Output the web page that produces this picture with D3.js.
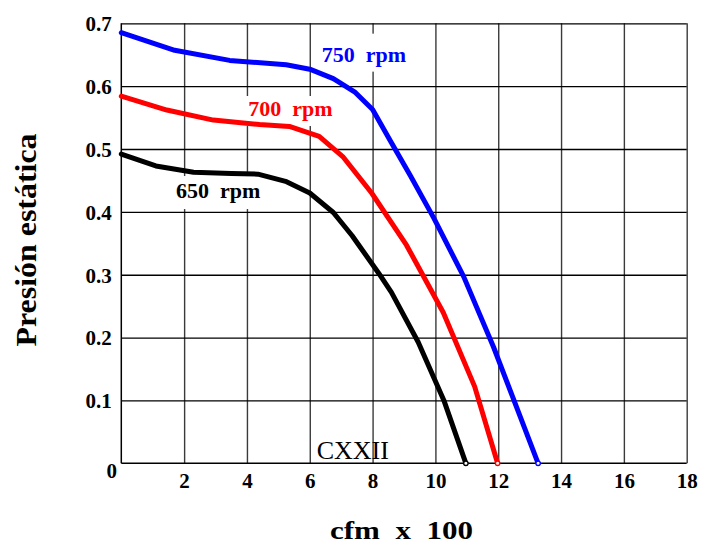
<!DOCTYPE html>
<html>
<head>
<meta charset="utf-8">
<script src="https://cdn.jsdelivr.net/npm/d3@7/dist/d3.min.js"></script>
<style>
  body { margin: 0; background: #fff; }
  svg { display: block; }
  text { font-family: "Liberation Serif", "Times New Roman", serif; }
</style>
</head>
<body>
<svg id="chart" width="702" height="544"></svg>
<script>
// Axis ticks
const xTickValues = [2, 4, 6, 8, 10, 12, 14, 16, 18];
const yTickValues = [0.1, 0.2, 0.3, 0.4, 0.5, 0.6, 0.7];

// Fan curves: flow (cfm x 100) against static pressure
const seriesNames  = ["650 rpm", "700 rpm", "750 rpm"];
const seriesColors = ["#000000", "#ff0000", "#0000ff"];

const cfm650  = [0, 1.1, 2.3, 3.5, 4.35, 5.26, 6.0, 6.75, 7.35, 8.2, 8.6, 9.45, 10.27, 10.97];
const pres650 = [0.492, 0.473, 0.463, 0.461, 0.460, 0.448, 0.430, 0.399, 0.362, 0.302, 0.272, 0.193, 0.100, 0];

const cfm700  = [0, 1.45, 2.93, 4.4, 5.35, 6.3, 7.05, 7.97, 9.08, 10.25, 11.25, 11.98];
const pres700 = [0.584, 0.562, 0.546, 0.539, 0.536, 0.520, 0.488, 0.430, 0.347, 0.240, 0.122, 0];

const cfm750  = [0, 1.7, 3.45, 5.25, 6.0, 6.75, 7.45, 8.0, 8.6, 9.2, 9.95, 10.9, 11.85, 13.27];
const pres750 = [0.685, 0.657, 0.641, 0.634, 0.627, 0.612, 0.590, 0.563, 0.510, 0.458, 0.390, 0.297, 0.185, 0];

// Where each curve name sits, in data units (start of text, baseline)
const labelCfm  = [1.74, 4.04, 6.38];
const labelPres = [0.422, 0.5525, 0.639];

const xTitle = "cfm  x  100";
const yTitle = "Presión estática";
const plateLabel = "CXXII";

const svg = d3.select("#chart");
const x = d3.scaleLinear().domain([0, 18]).range([121.3, 686.7]);
const y = d3.scaleLinear().domain([0, 0.7]).range([463.3, 23.3]);

// Grid via axes
const gridX = svg.append("g")
  .attr("transform", `translate(0,${y(0)})`)
  .call(d3.axisBottom(x).tickValues(xTickValues).tickSize(-(y(0) - y(0.7))).tickFormat(""));
gridX.select(".domain").remove();
gridX.selectAll("line").attr("stroke", "#3a3a3a").attr("stroke-width", 1.4);

const gridY = svg.append("g")
  .attr("transform", `translate(${x(0)},0)`)
  .call(d3.axisLeft(y).tickValues(yTickValues).tickSize(-(x(18) - x(0))).tickFormat(""));
gridY.select(".domain").remove();
gridY.selectAll("line").attr("stroke", "#000").attr("stroke-width", 1.3);

// Frame: left and bottom axis lines
svg.append("line").attr("x1", x(0)).attr("x2", x(0)).attr("y1", y(0.7)).attr("y2", y(0))
  .attr("stroke", "#000").attr("stroke-width", 1.5);
svg.append("line").attr("x1", x(0)).attr("x2", x(18)).attr("y1", y(0)).attr("y2", y(0))
  .attr("stroke", "#000").attr("stroke-width", 1.5);

// Tick labels
const xAxis = svg.append("g")
  .attr("transform", `translate(0,${y(0)})`)
  .call(d3.axisBottom(x).tickValues(xTickValues).tickSize(0).tickPadding(0).tickFormat(d3.format("d")));
xAxis.select(".domain").remove();
xAxis.selectAll("text")
  .attr("dy", null).attr("y", 24.5)
  .attr("font-family", "Liberation Serif").attr("font-weight", "bold")
  .attr("font-size", 21).attr("fill", "#000");

const yAxis = svg.append("g")
  .attr("transform", `translate(${x(0)},0)`)
  .call(d3.axisLeft(y).tickValues(yTickValues).tickSize(0).tickPadding(9.6).tickFormat(d3.format(".1f")));
yAxis.select(".domain").remove();
yAxis.selectAll("text")
  .attr("dy", "0.35em")
  .attr("font-family", "Liberation Serif").attr("font-weight", "bold")
  .attr("font-size", 21).attr("fill", "#000");

// Shared origin label
svg.append("text")
  .attr("x", x(0) - 4.3).attr("y", y(0) + 14.7)
  .attr("text-anchor", "end")
  .attr("font-weight", "bold").attr("font-size", 21)
  .text("0");

// Curve labels with white backing boxes
const padTop = [22, 20, 28];
const padBottom = [11, 10, 10];
const labelLayer = svg.append("g");
const curveLayer = svg.append("g");
const textLayer = svg.append("g");

seriesNames.forEach((name, i) => {
  const t = textLayer.append("text")
    .attr("x", x(labelCfm[i])).attr("y", y(labelPres[i]))
    .attr("font-weight", "bold").attr("font-size", 22)
    .attr("fill", seriesColors[i])
    .attr("xml:space", "preserve")
    .style("white-space", "pre")
    .text(name.replace(" ", "  "));
  const bb = t.node().getBBox();
  labelLayer.append("rect")
    .attr("x", bb.x - 5).attr("width", bb.width + 10)
    .attr("y", y(labelPres[i]) - padTop[i])
    .attr("height", padTop[i] + padBottom[i])
    .attr("fill", "#fff");
});

// Curves
const series = [
  { cfm: cfm650, pres: pres650 },
  { cfm: cfm700, pres: pres700 },
  { cfm: cfm750, pres: pres750 }
];
const line = d3.line().x(d => x(d[0])).y(d => y(d[1]));

series.forEach((s, i) => {
  const pts = s.cfm.map((c, k) => [c, s.pres[k]]);
  curveLayer.append("path")
    .attr("d", line(pts))
    .attr("fill", "none")
    .attr("stroke", seriesColors[i])
    .attr("stroke-width", 5)
    .attr("stroke-linejoin", "round")
    .attr("stroke-linecap", "round");
  const last = pts[pts.length - 1];
  curveLayer.append("circle")
    .attr("cx", x(last[0])).attr("cy", y(last[1]))
    .attr("r", 2.2)
    .attr("fill", "#fff")
    .attr("stroke", seriesColors[i])
    .attr("stroke-width", 1.3);
});

// Plate number
svg.append("text")
  .attr("x", 316.7).attr("y", 459)
  .attr("font-size", 26).attr("fill", "#000")
  .text(plateLabel);

// Axis titles
svg.append("text")
  .attr("x", 401.5).attr("y", 539)
  .attr("text-anchor", "middle")
  .attr("font-weight", "bold").attr("font-size", 25)
  .attr("xml:space", "preserve").style("white-space", "pre")
  .attr("textLength", 143).attr("lengthAdjust", "spacingAndGlyphs")
  .text(xTitle);

svg.append("text")
  .attr("transform", "translate(36,240) rotate(-90)")
  .attr("text-anchor", "middle")
  .attr("font-weight", "bold").attr("font-size", 30)
  .attr("textLength", 213).attr("lengthAdjust", "spacingAndGlyphs")
  .text(yTitle);
</script>
</body>
</html>
